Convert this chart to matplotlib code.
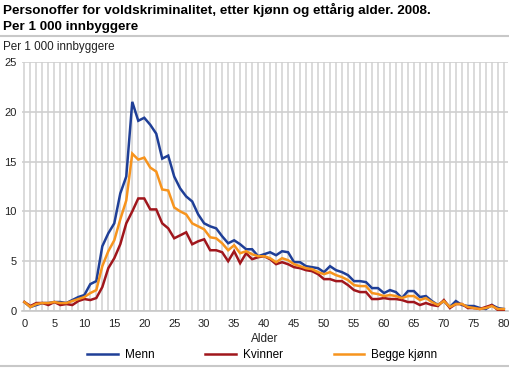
import numpy as np
import matplotlib
matplotlib.use("Agg")
import matplotlib.pyplot as plt
from matplotlib.lines import Line2D

plt.rcParams['font.family'] = ['Liberation Sans', 'DejaVu Sans']

ages = list(range(0, 81))

menn = [0.9, 0.4, 0.6, 0.8, 0.8, 0.9, 0.9, 0.8, 1.1, 1.4,
        1.6, 2.7, 3.0, 6.5, 7.8, 8.8, 11.8, 13.5, 21.0, 19.1,
        19.4, 18.7, 17.8, 15.3, 15.6, 13.5, 12.3, 11.5, 11.0, 9.7,
        8.8, 8.5, 8.3, 7.5, 6.8, 7.1, 6.7, 6.2, 6.2, 5.5,
        5.7, 5.9, 5.6, 6.0, 5.9, 4.9, 4.9, 4.5, 4.4, 4.3,
        3.9, 4.5, 4.1, 3.9, 3.6, 3.0, 3.0, 2.9, 2.3, 2.3,
        1.8, 2.1, 1.9, 1.3, 2.0, 2.0, 1.4, 1.5, 1.0, 0.6,
        1.0, 0.4, 1.0, 0.6, 0.5, 0.5, 0.3, 0.2, 0.6, 0.3, 0.2]

kvinner = [0.9, 0.5, 0.8, 0.8, 0.6, 0.9, 0.6, 0.7, 0.6, 1.0,
           1.2, 1.1, 1.3, 2.4, 4.3, 5.3, 6.7, 8.8, 10.0, 11.3,
           11.3, 10.2, 10.2, 8.8, 8.3, 7.3, 7.6, 7.9, 6.7, 7.0,
           7.2, 6.1, 6.1, 5.9, 5.0, 6.0, 4.8, 5.8, 5.2, 5.4,
           5.5, 5.2, 4.7, 4.9, 4.7, 4.4, 4.3, 4.1, 4.0, 3.7,
           3.2, 3.2, 3.0, 3.0, 2.6, 2.1, 1.9, 1.9, 1.2, 1.2,
           1.3, 1.2, 1.2, 1.1, 0.9, 0.9, 0.6, 0.8, 0.6, 0.5,
           1.1, 0.3, 0.7, 0.7, 0.3, 0.3, 0.2, 0.4, 0.6, 0.1, 0.1]

begge = [0.9, 0.4, 0.7, 0.8, 0.8, 0.9, 0.8, 0.8, 1.0, 1.2,
         1.4, 1.8, 2.1, 4.5, 6.0, 7.1, 9.2, 11.1, 15.8, 15.2,
         15.4, 14.4, 14.0, 12.2, 12.1, 10.4, 10.0, 9.7, 8.8, 8.5,
         8.2, 7.4, 7.3, 6.8, 6.1, 6.6, 5.8, 6.0, 5.7, 5.5,
         5.5, 5.3, 4.9, 5.3, 5.1, 4.7, 4.5, 4.3, 4.2, 3.9,
         3.7, 3.9, 3.6, 3.4, 3.1, 2.6, 2.5, 2.5, 1.8, 1.7,
         1.5, 1.6, 1.5, 1.3, 1.5, 1.5, 1.1, 1.3, 0.9, 0.6,
         1.0, 0.4, 0.7, 0.7, 0.4, 0.3, 0.2, 0.3, 0.5, 0.2, 0.2]

series = ['Menn', 'Kvinner', 'Begge kjønn']
colors = ['#1f3f97', '#a0161c', '#f7941d']

W, H = 510, 369
fig = plt.figure(figsize=(W / 100, H / 100), dpi=100)
ax = fig.add_axes([22 / W, 58 / H, 486 / W, 249 / H])

for vals, col in zip([menn, kvinner, begge], colors):
    ax.plot(ages, vals, color=col, linewidth=1.8, solid_joinstyle='miter', zorder=3)

ax.set_xlim(-0.4, 80.7)
ax.set_ylim(0, 25)
ax.set_xticks(range(0, 81, 5))
ax.set_xticks(range(0, 81), minor=True)
ax.set_yticks(range(0, 26, 5))
ax.grid(True, which='both', axis='x', color='#dadada', linewidth=1.4)
ax.grid(True, which='major', axis='y', color='#d0d0d0', linewidth=1.2)
ax.set_axisbelow(True)
for s in ['top', 'right', 'left']:
    ax.spines[s].set_visible(False)
ax.spines['bottom'].set_color('#c8c8c8')
ax.spines['bottom'].set_linewidth(1.2)
ax.tick_params(which='both', length=0, labelsize=8, colors='#222222')
ax.tick_params(axis='x', pad=6)
ax.tick_params(axis='y', pad=4)
ax.set_xlabel('Alder', fontsize=8.5, color='#222222', labelpad=3)

fig.text(3 / W, 1 - 10 / H, 'Personoffer for voldskriminalitet, etter kjønn og ettårig alder. 2008.',
         fontsize=9.7, fontweight='bold', va='center', ha='left')
fig.text(3 / W, 1 - 27 / H, 'Per 1 000 innbyggere',
         fontsize=9.7, fontweight='bold', va='center', ha='left')
fig.add_artist(Line2D([0, 1], [1 - 36 / H, 1 - 36 / H], color='#c8c8c8', linewidth=1.5))
fig.add_artist(Line2D([0, 1], [1 - 366 / H, 1 - 366 / H], color='#c8c8c8', linewidth=1.5))
fig.text(3 / W, 1 - 47 / H, 'Per 1 000 innbyggere', fontsize=8.4, va='center', ha='left', color='#222222')

handles = [Line2D([], [], color=c, linewidth=1.8) for c in colors]
fig.legend(handles, series, loc='center left', bbox_to_anchor=(87 / W, 1 - 355 / H), ncol=3,
           frameon=False, fontsize=8.5, handlelength=2.6, columnspacing=4.3, handletextpad=0.6,
           borderpad=0, borderaxespad=0)

fig.savefig('out.png', dpi=100)
